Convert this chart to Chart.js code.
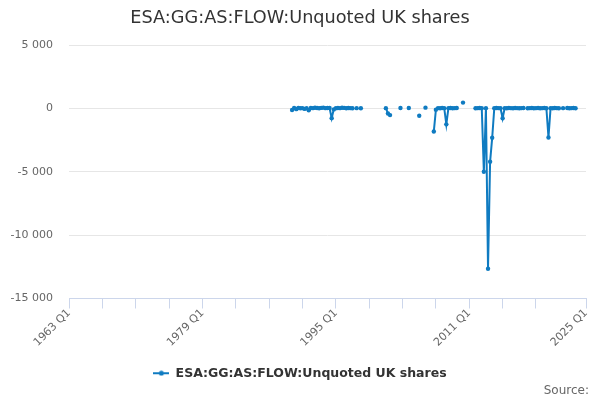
<!DOCTYPE html>
<html>
<head>
<meta charset="utf-8">
<script src="https://cdn.jsdelivr.net/npm/chart.js@4/dist/chart.umd.min.js"></script>
<style>
  body { margin: 0; background: #fff; }
  canvas { display: block; }
</style>
</head>
<body>
<canvas id="flow-chart" width="600" height="400"></canvas>
<script>
//
// Data
//
const seriesName = 'ESA:GG:AS:FLOW:Unquoted UK shares';

const periods = [
  '1989 Q4',
  '1990 Q1', '1990 Q2', '1990 Q3', '1990 Q4',
  '1991 Q1', '1991 Q2', '1991 Q3', '1991 Q4',
  '1992 Q1', '1992 Q2', '1992 Q3', '1992 Q4',
  '1993 Q1', '1993 Q2', '1993 Q3', '1993 Q4',
  '1994 Q1', '1994 Q2', '1994 Q3', '1994 Q4',
  '1995 Q1', '1995 Q2', '1995 Q3', '1995 Q4',
  '1996 Q1', '1996 Q2', '1996 Q3', '1996 Q4',
  '1997 Q1', '1997 Q2', '1997 Q3', '1997 Q4',
  '1998 Q1', '1998 Q2', '1998 Q3', '1998 Q4',
  '1999 Q1', '1999 Q2', '1999 Q3', '1999 Q4',
  '2000 Q1', '2000 Q2', '2000 Q3', '2000 Q4',
  '2001 Q1', '2001 Q2', '2001 Q3', '2001 Q4',
  '2002 Q1', '2002 Q2', '2002 Q3', '2002 Q4',
  '2003 Q1', '2003 Q2', '2003 Q3', '2003 Q4',
  '2004 Q1', '2004 Q2', '2004 Q3', '2004 Q4',
  '2005 Q1', '2005 Q2', '2005 Q3', '2005 Q4',
  '2006 Q1', '2006 Q2', '2006 Q3', '2006 Q4',
  '2007 Q1', '2007 Q2', '2007 Q3', '2007 Q4',
  '2008 Q1', '2008 Q2', '2008 Q3', '2008 Q4',
  '2009 Q1', '2009 Q2', '2009 Q3', '2009 Q4',
  '2010 Q1', '2010 Q2', '2010 Q3', '2010 Q4',
  '2011 Q1', '2011 Q2', '2011 Q3', '2011 Q4',
  '2012 Q1', '2012 Q2', '2012 Q3', '2012 Q4',
  '2013 Q1', '2013 Q2', '2013 Q3', '2013 Q4',
  '2014 Q1', '2014 Q2', '2014 Q3', '2014 Q4',
  '2015 Q1', '2015 Q2', '2015 Q3', '2015 Q4',
  '2016 Q1', '2016 Q2', '2016 Q3', '2016 Q4',
  '2017 Q1', '2017 Q2', '2017 Q3', '2017 Q4',
  '2018 Q1', '2018 Q2', '2018 Q3', '2018 Q4',
  '2019 Q1', '2019 Q2', '2019 Q3', '2019 Q4',
  '2020 Q1', '2020 Q2', '2020 Q3', '2020 Q4',
  '2021 Q1', '2021 Q2', '2021 Q3', '2021 Q4',
  '2022 Q1', '2022 Q2', '2022 Q3', '2022 Q4',
  '2023 Q1', '2023 Q2', '2023 Q3', '2023 Q4'
];

const values = [
  -120,
  40, -60, 30, 10,
  20, -40, 20, -150,
  40, 20, 50, 30,
  10, 40, 60, 20,
  30, 30, -770, -80,
  10, 30, 20, 50,
  40, 10, 30, 20,
  10, null, 20, null,
  10, null, null, null,
  null, null, null, null,
  null, null, null, null,
  20, -400, -530, null,
  null, null, null, 30,
  null, null, null, 30,
  null, null, null, null,
  -580, null, null, 60,
  null, null, null, -1820,
  -100, 20, 10, 30,
  20, -1260, 20, 30,
  10, 20, 30, null,
  null, 460, null, null,
  null, null, null, 10,
  20, 30, 10, -5000,
  20, -12650, -4200, -2320,
  10, 30, 20, 10,
  -780, 20, 10, 30,
  20, 10, 30, 20,
  10, 20, 30, null,
  10, 20, 30, 10,
  20, 30, 10, 20,
  30, 10, -2300, 20,
  10, 30, 20, 10,
  null, 20, null, 30,
  10, 20, 30, 10
];

// x axis tick marks and the ones that get a label
const tickYears = [1963, 1967, 1971, 1975, 1979, 1983, 1987, 1991, 1995, 1999, 2003, 2007, 2011, 2015, 2019, 2025];
const labelYears = [1963, 1979, 1995, 2011, 2025];
const yTicks = [-15000, -10000, -5000, 0, 5000];

//
// Chart
//
const lineColor = '#0f7bc1';
const fontFamily = "'DejaVu Sans', sans-serif";

// "1989 Q3" -> 1989.5
function periodToYear(p) {
    const parts = p.split(' Q');
    return Number(parts[0]) + (Number(parts[1]) - 1) / 4;
}

function formatThousands(v) {
    const s = String(Math.abs(v)).replace(/\B(?=(\d{3})+(?!\d))/g, ' ');
    return v < 0 ? '-' + s : s;
}

const points = periods.map((p, i) => ({ x: periodToYear(p), y: values[i] }));

// legend symbol: short line with a dot
const legendSymbol = document.createElement('canvas');
legendSymbol.width = 16;
legendSymbol.height = 6;
(function () {
    const c = legendSymbol.getContext('2d');
    c.strokeStyle = lineColor;
    c.lineWidth = 2;
    c.beginPath();
    c.moveTo(0, 3);
    c.lineTo(16, 3);
    c.stroke();
    c.fillStyle = lineColor;
    c.beginPath();
    c.arc(8, 3, 2.5, 0, Math.PI * 2);
    c.fill();
})();

const sourcePlugin = {
    id: 'sourceText',
    afterDraw(chart) {
        const ctx = chart.ctx;
        ctx.save();
        ctx.font = '12px ' + fontFamily;
        ctx.fillStyle = '#666666';
        ctx.textAlign = 'right';
        ctx.textBaseline = 'middle';
        ctx.fillText('Source:', 589, 391);
        ctx.restore();
    }
};

const flowChart = new Chart(document.getElementById('flow-chart'), {
    type: 'line',
    data: {
        datasets: [{
            label: seriesName,
            data: points,
            borderColor: lineColor,
            backgroundColor: lineColor,
            borderWidth: 2,
            pointRadius: 2.2,
            pointBorderWidth: 0,
            pointBackgroundColor: lineColor,
            spanGaps: false,
            tension: 0
        }]
    },
    options: {
        responsive: false,
        animation: false,
        devicePixelRatio: 1,
        layout: {
            padding: { left: 0, right: 0, top: 0, bottom: 10.5 }
        },
        scales: {
            x: {
                type: 'linear',
                min: 1963,
                max: 2025,
                afterBuildTicks: (scale) => {
                    scale.ticks = tickYears.map(v => ({ value: v }));
                },
                afterFit: (scale) => { scale.height = 58.5; },
                ticks: {
                    autoSkip: false,
                    minRotation: 45,
                    maxRotation: 45,
                    padding: -2,
                    color: '#666666',
                    font: { family: fontFamily, size: 11 },
                    callback: (v) => labelYears.includes(v) ? v + ' Q1' : ''
                },
                grid: {
                    drawOnChartArea: false,
                    drawTicks: true,
                    tickLength: 10,
                    color: '#ccd6eb'
                },
                border: { display: true, color: '#ccd6eb', width: 1 }
            },
            y: {
                min: -15000,
                max: 5000,
                afterBuildTicks: (scale) => {
                    scale.ticks = yTicks.map(v => ({ value: v }));
                },
                afterFit: (scale) => { scale.width = 69; },
                ticks: {
                    padding: 16,
                    color: '#666666',
                    font: { family: fontFamily, size: 11 },
                    callback: (v) => formatThousands(v)
                },
                grid: {
                    drawTicks: false,
                    color: '#e6e6e6'
                },
                border: { display: false }
            },
            // empty right-hand strip so the plot ends where the reference does
            yRight: {
                position: 'right',
                display: true,
                afterFit: (scale) => { scale.width = 14; },
                ticks: { display: false },
                grid: { display: false },
                border: { display: false }
            }
        },
        plugins: {
            title: {
                display: true,
                text: seriesName,
                color: '#333333',
                font: { family: fontFamily, size: 17.7, weight: 'normal' },
                padding: { top: 7.5, bottom: 16.3 }
            },
            legend: {
                display: true,
                position: 'bottom',
                labels: {
                    usePointStyle: true,
                    pointStyle: legendSymbol,
                    pointStyleWidth: 16,
                    color: '#333333',
                    font: { family: fontFamily, size: 12.5, weight: 'bold' },
                    padding: 10
                }
            },
            tooltip: { enabled: false }
        }
    },
    plugins: [sourcePlugin]
});
</script>
</body>
</html>
